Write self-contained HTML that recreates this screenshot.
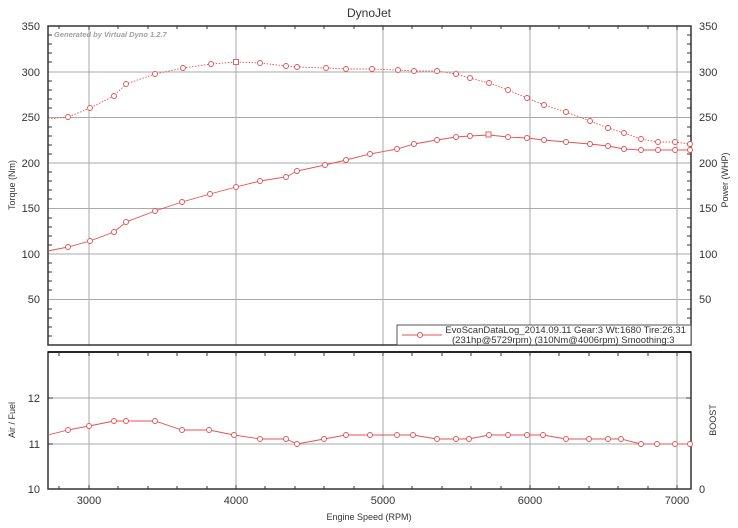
<!DOCTYPE html><html><head><meta charset="utf-8"><style>body{margin:0;background:#fff}svg{display:block}text{font-family:"Liberation Sans",sans-serif;fill:#333}</style></head><body>
<svg width="738" height="528" viewBox="0 0 738 528" xmlns="http://www.w3.org/2000/svg">
<rect width="738" height="528" fill="#fff"/>
<text x="369" y="17" font-size="12" text-anchor="middle">DynoJet</text>
<g stroke="#aaa" stroke-width="1">
<line x1="89" y1="26" x2="89" y2="345"/><line x1="236" y1="26" x2="236" y2="345"/><line x1="383" y1="26" x2="383" y2="345"/><line x1="530" y1="26" x2="530" y2="345"/><line x1="677" y1="26" x2="677" y2="345"/>
<line x1="48" y1="72" x2="691" y2="72"/><line x1="48" y1="117.5" x2="691" y2="117.5"/><line x1="48" y1="163" x2="691" y2="163"/><line x1="48" y1="208.5" x2="691" y2="208.5"/><line x1="48" y1="254" x2="691" y2="254"/><line x1="48" y1="299.5" x2="691" y2="299.5"/>
<line x1="89" y1="352" x2="89" y2="489"/><line x1="236" y1="352" x2="236" y2="489"/><line x1="383" y1="352" x2="383" y2="489"/><line x1="530" y1="352" x2="530" y2="489"/><line x1="677" y1="352" x2="677" y2="489"/>
<line x1="48" y1="398" x2="691" y2="398"/><line x1="48" y1="444" x2="691" y2="444"/>
</g>
<rect x="48" y="26" width="643" height="319" fill="none" stroke="#333" stroke-width="1.5"/>
<rect x="48" y="352" width="643" height="137" fill="none" stroke="#333" stroke-width="1.5"/>
<line x1="48" y1="352" x2="691" y2="352" stroke="#000" stroke-width="1.5"/>
<g stroke="#333" stroke-width="1">
<path d="M48 35h4M48 44h4M48 53h4M48 62h4M48 81h4M48 90h4M48 99h4M48 108h4M48 127h4M48 136h4M48 145h4M48 154h4M48 172h4M48 181h4M48 190h4M48 199h4M48 218h4M48 227h4M48 236h4M48 245h4M48 263h4M48 272h4M48 281h4M48 290h4M48 309h4M48 318h4M48 327h4M48 336h4"/>
<path d="M691 35h-4M691 44h-4M691 53h-4M691 62h-4M691 81h-4M691 90h-4M691 99h-4M691 108h-4M691 127h-4M691 136h-4M691 145h-4M691 154h-4M691 172h-4M691 181h-4M691 190h-4M691 199h-4M691 218h-4M691 227h-4M691 236h-4M691 245h-4M691 263h-4M691 272h-4M691 281h-4M691 290h-4M691 309h-4M691 318h-4M691 327h-4M691 336h-4"/>
<path d="M89 26v4M236 26v4M383 26v4M530 26v4M677 26v4M59 26v3M118 26v3M148 26v3M177 26v3M207 26v3M265 26v3M295 26v3M324 26v3M354 26v3M412 26v3M442 26v3M471 26v3M501 26v3M559 26v3M589 26v3M618 26v3M648 26v3"/>
<path d="M59 489v-3M89 489v-4M118 489v-3M148 489v-3M177 489v-3M207 489v-3M236 489v-4M265 489v-3M295 489v-3M324 489v-3M354 489v-3M383 489v-4M412 489v-3M442 489v-3M471 489v-3M501 489v-3M530 489v-4M559 489v-3M589 489v-3M618 489v-3M648 489v-3M677 489v-4"/>
<path d="M59 352v4M89 352v4M118 352v4M148 352v4M177 352v4M207 352v4M236 352v4M265 352v4M295 352v4M324 352v4M354 352v4M383 352v4M412 352v4M442 352v4M471 352v4M501 352v4M530 352v4M559 352v4M589 352v4M618 352v4M648 352v4M677 352v4"/>
<path d="M48 398h5M48 444h5M691 398h-5M691 444h-5"/>
</g>
<text x="54" y="37" font-size="7.5" font-style="italic" font-weight="bold" style="fill:#a0a0a0">Generated by Virtual Dyno 1.2.7</text>
<g font-size="11" text-anchor="end">
<text x="40" y="30">350</text><text x="40" y="76">300</text><text x="40" y="121">250</text><text x="40" y="167">200</text><text x="40" y="212">150</text><text x="40" y="258">100</text><text x="40" y="303">50</text>
<text x="40" y="402">12</text><text x="40" y="448">11</text><text x="40" y="493">10</text>
</g>
<g font-size="11">
<text x="699" y="30">350</text><text x="699" y="76">300</text><text x="699" y="121">250</text><text x="699" y="167">200</text><text x="699" y="212">150</text><text x="699" y="258">100</text><text x="699" y="303">50</text><text x="699" y="493">0</text>
</g>
<g font-size="11" text-anchor="middle">
<text x="89" y="504">3000</text><text x="236" y="504">4000</text><text x="383" y="504">5000</text><text x="530" y="504">6000</text><text x="677" y="504">7000</text>
</g>
<text x="369" y="520" font-size="9" text-anchor="middle">Engine Speed (RPM)</text>
<text transform="translate(15,185) rotate(-90)" font-size="9" text-anchor="middle">Torque (Nm)</text>
<text transform="translate(728,180) rotate(-90)" font-size="9" text-anchor="middle">Power (WHP)</text>
<text transform="translate(15,420) rotate(-90)" font-size="9" text-anchor="middle">Air / Fuel</text>
<text transform="translate(716,420) rotate(-90)" font-size="9" text-anchor="middle">BOOST</text>
<g fill="none" stroke="#e85050" stroke-width="0.9">
<polyline stroke-dasharray="1.5,1.5" points="48,119 68,117 90,108 114,96 126,84 155,74 183,68 211,64 236,62 260,63 286,66 297,67 326,68 346,69 372,69 398,70 414,71 437,71 456,74 470,78 489,83 508,90 527,98 544,105 566,112 590,121 608,128 624,133 641,139 658,142 675,142 690,144"/>
<polyline points="48,251 68,247 90,241 114,232 126,222 155,211 182,202 210,194 236,187 260,181 286,177 297,171 325,165 346,160 370,154 397,149 414,144 437,140 456,137 470,136 489,135 508,137 527,138 544,140 566,142 590,144 608,146 624,149 641,150 658,150 675,150 690,150"/>
<polyline points="48,435 68,430 89,426 114,421 126,421 155,421 182,430 209,430 234,435 260,439 286,439 297,444 324,439 346,435 370,435 397,435 413,435 437,439 456,439 469,439 489,435 508,435 527,435 543,435 566,439 589,439 608,439 621,439 641,444 657,444 675,444 690,444"/>
</g>
<g fill="#fff" stroke="#e85050" stroke-width="0.9">
<circle cx="68" cy="117" r="2.5"/><circle cx="90" cy="108" r="2.5"/><circle cx="114" cy="96" r="2.5"/><circle cx="126" cy="84" r="2.5"/><circle cx="155" cy="74" r="2.5"/><circle cx="183" cy="68" r="2.5"/><circle cx="211" cy="64" r="2.5"/><circle cx="260" cy="63" r="2.5"/><circle cx="286" cy="66" r="2.5"/><circle cx="297" cy="67" r="2.5"/><circle cx="326" cy="68" r="2.5"/><circle cx="346" cy="69" r="2.5"/><circle cx="372" cy="69" r="2.5"/><circle cx="398" cy="70" r="2.5"/><circle cx="414" cy="71" r="2.5"/><circle cx="437" cy="71" r="2.5"/><circle cx="456" cy="74" r="2.5"/><circle cx="470" cy="78" r="2.5"/><circle cx="489" cy="83" r="2.5"/><circle cx="508" cy="90" r="2.5"/><circle cx="527" cy="98" r="2.5"/><circle cx="544" cy="105" r="2.5"/><circle cx="566" cy="112" r="2.5"/><circle cx="590" cy="121" r="2.5"/><circle cx="608" cy="128" r="2.5"/><circle cx="624" cy="133" r="2.5"/><circle cx="641" cy="139" r="2.5"/><circle cx="658" cy="142" r="2.5"/><circle cx="675" cy="142" r="2.5"/><circle cx="690" cy="144" r="2.5"/>
<circle cx="68" cy="247" r="2.5"/><circle cx="90" cy="241" r="2.5"/><circle cx="114" cy="232" r="2.5"/><circle cx="126" cy="222" r="2.5"/><circle cx="155" cy="211" r="2.5"/><circle cx="182" cy="202" r="2.5"/><circle cx="210" cy="194" r="2.5"/><circle cx="236" cy="187" r="2.5"/><circle cx="260" cy="181" r="2.5"/><circle cx="286" cy="177" r="2.5"/><circle cx="297" cy="171" r="2.5"/><circle cx="325" cy="165" r="2.5"/><circle cx="346" cy="160" r="2.5"/><circle cx="370" cy="154" r="2.5"/><circle cx="397" cy="149" r="2.5"/><circle cx="414" cy="144" r="2.5"/><circle cx="437" cy="140" r="2.5"/><circle cx="456" cy="137" r="2.5"/><circle cx="470" cy="136" r="2.5"/><circle cx="508" cy="137" r="2.5"/><circle cx="527" cy="138" r="2.5"/><circle cx="544" cy="140" r="2.5"/><circle cx="566" cy="142" r="2.5"/><circle cx="590" cy="144" r="2.5"/><circle cx="608" cy="146" r="2.5"/><circle cx="624" cy="149" r="2.5"/><circle cx="641" cy="150" r="2.5"/><circle cx="658" cy="150" r="2.5"/><circle cx="675" cy="150" r="2.5"/><circle cx="690" cy="150" r="2.5"/>
<circle cx="68" cy="430" r="2.5"/><circle cx="89" cy="426" r="2.5"/><circle cx="114" cy="421" r="2.5"/><circle cx="126" cy="421" r="2.5"/><circle cx="155" cy="421" r="2.5"/><circle cx="182" cy="430" r="2.5"/><circle cx="209" cy="430" r="2.5"/><circle cx="234" cy="435" r="2.5"/><circle cx="260" cy="439" r="2.5"/><circle cx="286" cy="439" r="2.5"/><circle cx="297" cy="444" r="2.5"/><circle cx="324" cy="439" r="2.5"/><circle cx="346" cy="435" r="2.5"/><circle cx="370" cy="435" r="2.5"/><circle cx="397" cy="435" r="2.5"/><circle cx="413" cy="435" r="2.5"/><circle cx="437" cy="439" r="2.5"/><circle cx="456" cy="439" r="2.5"/><circle cx="469" cy="439" r="2.5"/><circle cx="489" cy="435" r="2.5"/><circle cx="508" cy="435" r="2.5"/><circle cx="527" cy="435" r="2.5"/><circle cx="543" cy="435" r="2.5"/><circle cx="566" cy="439" r="2.5"/><circle cx="589" cy="439" r="2.5"/><circle cx="608" cy="439" r="2.5"/><circle cx="621" cy="439" r="2.5"/><circle cx="641" cy="444" r="2.5"/><circle cx="657" cy="444" r="2.5"/><circle cx="675" cy="444" r="2.5"/><circle cx="690" cy="444" r="2.5"/>
<rect x="233.5" y="59.5" width="5" height="5"/><rect x="486" y="132" width="5" height="5"/>
</g>
<rect x="397" y="325" width="294" height="20" fill="#fff" stroke="#555" stroke-width="1"/>
<line x1="402" y1="335" x2="442" y2="335" stroke="#e85050" stroke-width="1"/>
<circle cx="420" cy="335" r="2.5" fill="#fff" stroke="#e85050"/>
<text x="686" y="333" font-size="9.5" text-anchor="end">EvoScanDataLog_2014.09.11 Gear:3 Wt:1680 Tire:26.31</text>
<text x="452" y="343" font-size="9.5">(231hp@5729rpm) (310Nm@4006rpm) Smoothing:3</text>
</svg>
</body></html>
